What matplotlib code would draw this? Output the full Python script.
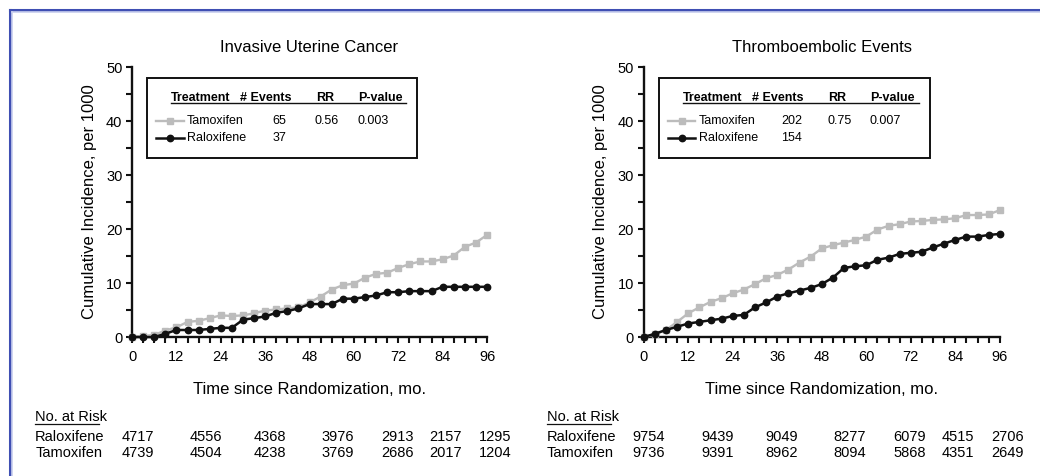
import numpy as np
import matplotlib.pyplot as plt
from matplotlib.lines import Line2D
from matplotlib.patches import Rectangle

plt.rcParams['font.family'] = ['Liberation Sans', 'DejaVu Sans']

# months since randomization (marker every 3 months)
months = np.arange(0, 97, 3)

# cumulative incidence per 1000 - invasive uterine cancer
uterine_ralox = [0, 0, 0, 0.6, 1.3, 1.3, 1.3, 1.5, 1.7, 1.7, 3.2, 3.5, 3.8, 4.5, 4.8, 5.3, 6.1,
                 6.1, 6.1, 7.1, 7.1, 7.4, 7.7, 8.3, 8.3, 8.5, 8.5, 8.5, 9.3, 9.3, 9.3, 9.3, 9.3]
uterine_tamox = [0, 0.2, 0.4, 1.2, 1.8, 2.8, 3.0, 3.5, 4.0, 3.9, 4.0, 4.4, 4.9, 5.1, 5.3, 5.5, 6.4,
                 7.5, 8.8, 9.6, 9.9, 11.0, 11.7, 11.9, 12.8, 13.5, 14.0, 14.0, 14.4, 15.1, 16.7, 17.5, 18.9]

# cumulative incidence per 1000 - thromboembolic events
te_ralox = [0, 0.6, 1.3, 1.9, 2.5, 2.8, 3.1, 3.4, 3.9, 4.1, 5.5, 6.4, 7.5, 8.1, 8.6, 9.1, 9.8,
            11.0, 12.8, 13.1, 13.3, 14.3, 14.7, 15.4, 15.6, 15.8, 16.6, 17.3, 18.0, 18.6, 18.6, 18.9, 19.1]
te_tamox = [0, 0.5, 1.3, 2.8, 4.4, 5.5, 6.5, 7.2, 8.1, 8.8, 9.8, 10.9, 11.5, 12.5, 13.8, 14.9, 16.4,
            17.0, 17.5, 18.0, 18.6, 19.9, 20.6, 20.9, 21.4, 21.5, 21.7, 21.8, 22.0, 22.6, 22.6, 22.7, 23.5]

titles = ['Invasive Uterine Cancer', 'Thromboembolic Events']
events_tamox = ['65', '202']
events_ralox = ['37', '154']
rr = ['0.56', '0.75']
pvals = ['0.003', '0.007']

# number at risk
risk_ralox = [[4717, 4556, 4368, 3976, 2913, 2157, 1295],
              [9754, 9439, 9049, 8277, 6079, 4515, 2706]]
risk_tamox = [[4739, 4504, 4238, 3769, 2686, 2017, 1204],
              [9736, 9391, 8962, 8094, 5868, 4351, 2649]]

GRAY = '#bcbcbc'
BLACK = '#111111'

fig = plt.figure(figsize=(10.4, 4.76), dpi=100)
axes = [fig.add_axes([0.127, 0.292, 0.3413, 0.567]),
        fig.add_axes([0.619, 0.292, 0.3423, 0.567])]
data = [(uterine_tamox, uterine_ralox), (te_tamox, te_ralox)]

risk_cols = [0.015, 0.207, 0.388, 0.578, 0.748, 0.883, 1.022]

for i, ax in enumerate(axes):
    tam, ral = data[i]
    ax.plot(months, tam, color=GRAY, lw=1.7, marker='s', ms=3.8, clip_on=False, zorder=3)
    ax.plot(months, ral, color=BLACK, lw=1.8, marker='o', ms=4.6, clip_on=False, zorder=4)

    ax.set_xlim(0, 96)
    ax.set_ylim(0, 50)
    ax.set_xticks(range(0, 97, 12))
    ax.set_xticks(range(0, 97, 3), minor=True)
    ax.set_yticks(range(0, 51, 10))
    ax.set_yticks(range(0, 51, 5), minor=True)
    for s in ['top', 'right']:
        ax.spines[s].set_visible(False)
    for s in ['left', 'bottom']:
        ax.spines[s].set_linewidth(1.7)
        ax.spines[s].set_color(BLACK)
    ax.tick_params(which='major', length=4, width=1.5, labelsize=10.5, pad=5, color=BLACK)
    ax.tick_params(which='minor', length=4, width=1.5, color=BLACK)
    ax.tick_params(axis='y', pad=3)

    ax.text(0.5, 1.074, titles[i], transform=ax.transAxes, ha='center', va='center', fontsize=12)
    ax.set_ylabel('Cumulative Incidence, per 1000', fontsize=12)
    ax.yaxis.set_label_coords(-0.10, 0.5)
    ax.set_xlabel('Time since Randomization, mo.', fontsize=12)
    ax.xaxis.set_label_coords(0.5, -0.165)

    # statistics box
    ax.add_patch(Rectangle((0.042, 0.663), 0.761, 0.296, transform=ax.transAxes,
                           fill=False, lw=1.4, ec=BLACK, zorder=5))
    hy, y1, y2 = 0.885, 0.800, 0.737
    hdr = [('Treatment', 0.110), ('# Events', 0.305), ('RR', 0.518), ('P-value', 0.636)]
    for txt, x in hdr:
        ax.text(x, hy, txt, transform=ax.transAxes, fontsize=9, fontweight='bold', va='center')
    ax.add_line(Line2D([0.110, 0.772], [0.866, 0.866], transform=ax.transAxes, color=BLACK, lw=1.0))
    ax.add_line(Line2D([0.068, 0.145], [y1, y1], transform=ax.transAxes, color=GRAY, lw=1.7))
    ax.add_line(Line2D([0.068, 0.145], [y2, y2], transform=ax.transAxes, color=BLACK, lw=1.8))
    ax.add_line(Line2D([0.1065], [y1], transform=ax.transAxes, color=GRAY, marker='s', ms=3.8))
    ax.add_line(Line2D([0.1065], [y2], transform=ax.transAxes, color=BLACK, marker='o', ms=4.6))
    ax.text(0.155, y1, 'Tamoxifen', transform=ax.transAxes, fontsize=9, va='center')
    ax.text(0.155, y2, 'Raloxifene', transform=ax.transAxes, fontsize=9, va='center')
    ax.text(0.416, y1, events_tamox[i], transform=ax.transAxes, fontsize=9, va='center', ha='center')
    ax.text(0.416, y2, events_ralox[i], transform=ax.transAxes, fontsize=9, va='center', ha='center')
    ax.text(0.549, y1, rr[i], transform=ax.transAxes, fontsize=9, va='center', ha='center')
    ax.text(0.679, y1, pvals[i], transform=ax.transAxes, fontsize=9, va='center', ha='center')

    # number-at-risk table
    ax.text(-0.273, -0.296, 'No. at Risk', transform=ax.transAxes, fontsize=10.5, va='center')
    ax.add_line(Line2D([-0.273, -0.093], [-0.323, -0.323], transform=ax.transAxes,
                       color=BLACK, lw=0.9, clip_on=False))
    ax.text(-0.273, -0.370, 'Raloxifene', transform=ax.transAxes, fontsize=10.5, va='center')
    ax.text(-0.273, -0.430, 'Tamoxifen', transform=ax.transAxes, fontsize=10.5, va='center')
    for x, a, b in zip(risk_cols, risk_ralox[i], risk_tamox[i]):
        ax.text(x, -0.370, str(a), transform=ax.transAxes, fontsize=10.5, va='center', ha='center')
        ax.text(x, -0.430, str(b), transform=ax.transAxes, fontsize=10.5, va='center', ha='center')

# blue frame along the top and left edges
fig.add_artist(Line2D([0.0095, 1.0], [0.978, 0.978], transform=fig.transFigure, color='#3f4fb3', lw=2.2))
fig.add_artist(Line2D([0.0095, 0.0095], [0.0, 0.978], transform=fig.transFigure, color='#3f4fb3', lw=2.2))
fig.add_artist(Line2D([0.0118, 1.0], [0.974, 0.974], transform=fig.transFigure, color='#c9cfee', lw=1.2))
fig.add_artist(Line2D([0.0118, 0.0118], [0.0, 0.974], transform=fig.transFigure, color='#c9cfee', lw=1.2))

fig.savefig('out.png', dpi=100)
